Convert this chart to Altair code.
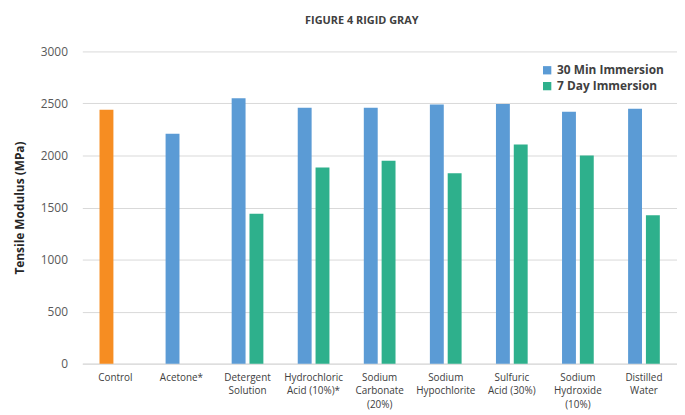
import altair as alt
import pandas as pd

categories = ["Control", "Acetone*", "Detergent|Solution", "Hydrochloric|Acid (10%)*",
              "Sodium|Carbonate|(20%)", "Sodium|Hypochlorite", "Sulfuric|Acid (30%)",
              "Sodium|Hydroxide|(10%)", "Distilled|Water"]
min30 = [2440, 2210, 2550, 2460, 2460, 2490, 2495, 2420, 2450]
day7 = [None, None, 1440, 1885, 1950, 1830, 2105, 2000, 1425]
series_names = ["30 Min Immersion", "7 Day Immersion", "Control"]
colors = ["#5B9BD5", "#2EB08C", "#F68D22"]
y_ticks = [0, 500, 1000, 1500, 2000, 2500, 3000]

rows = []
for i, c in enumerate(categories):
    rows.append(dict(cat=c, slot="a",
                     series="Control" if c == "Control" else "30 Min Immersion",
                     value=min30[i]))
    if day7[i] is not None:
        rows.append(dict(cat=c, slot="b", series="7 Day Immersion", value=day7[i]))
df = pd.DataFrame(rows)

chart = alt.Chart(df).mark_bar().encode(
    x=alt.X("cat:N", sort=categories,
            scale=alt.Scale(paddingInner=0.52, paddingOuter=0.26),
            axis=alt.Axis(title=None, labelAngle=0, labelExpr="split(datum.label, '|')",
                          domainColor="#d9d9d9", ticks=False, labelFont="Open Sans",
                          labelFontSize=10, labelColor="#404040", labelPadding=9,
                          labelLineHeight=13.5, labelBaseline="top")),
    xOffset=alt.XOffset("slot:N", scale=alt.Scale(domain=["a", "b"], paddingInner=0.22, paddingOuter=0)),
    y=alt.Y("value:Q", scale=alt.Scale(domain=[0, 3000]),
            axis=alt.Axis(title="Tensile Modulus (MPa)", values=y_ticks, format="d",
                          domain=False, ticks=False,
                          gridColor="#d9d9d9", labelFont="Open Sans", labelFontSize=12,
                          labelColor="#595959", labelPadding=15, titleFont="Open Sans",
                          titleFontSize=12, titleFontWeight="bold", titleColor="#262626",
                          titlePadding=14)),
    color=alt.Color("series:N",
                    scale=alt.Scale(domain=series_names, range=colors),
                    legend=alt.Legend(values=series_names[:2], title=None, orient="none",
                                      legendX=463, legendY=13, symbolType="square",
                                      symbolSize=70, labelFont="Open Sans", labelFontSize=12,
                                      labelFontWeight="bold", labelColor="#404040",
                                      rowPadding=4, symbolStrokeWidth=0)),
).properties(
    width=600, height=315,
    autosize=alt.AutoSizeParams(type="none"),
    padding={"left": 75, "top": 42, "right": 0, "bottom": 50},
    title=alt.TitleParams("FIGURE 4 RIGID GRAY", anchor="middle", font="Open Sans",
                          fontSize=11, fontWeight="bold", color="#404040", dx=-18, offset=20),
).configure_view(stroke=None)

chart.save("out.html", embed_options={"renderer": "svg", "actions": False})
